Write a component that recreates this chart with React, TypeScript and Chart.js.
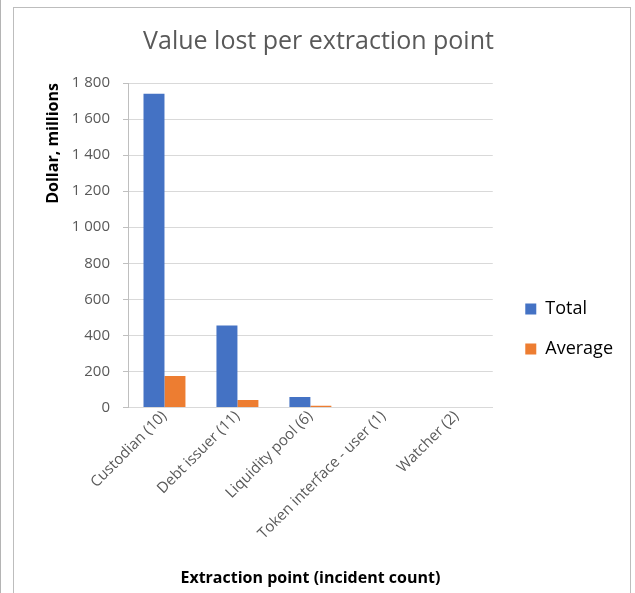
import React, { useEffect, useRef } from "react";
import Chart from "chart.js/auto";

const categories = [
  "Custodian (10)",
  "Debt issuer (11)",
  "Liquidity pool (6)",
  "Token interface - user (1)",
  "Watcher (2)",
];
const totalValues = [1740, 455, 58, 0, 0];
const averageValues = [174, 41, 9.7, 0, 0];
const yMin = 0;
const yMax = 1800;
const yStep = 200;

const chartTitle = "Value lost per extraction point";
const yTitle = "Dollar, millions";
const xTitle = "Extraction point (incident count)";
const seriesNames = ["Total", "Average"];

const FONT = "'Open Sans', 'DejaVu Sans', sans-serif";

function fmt(v: number): string {
  return String(v).replace(/\B(?=(\d{3})+(?!\d))/g, " ");
}

export default function App() {
  const ref = useRef<HTMLCanvasElement | null>(null);
  useEffect(() => {
    let chart: Chart | null = null;
    let cancelled = false;
    const make = () => {
      if (cancelled || !ref.current) return;
      chart = new Chart(ref.current, {
        type: "bar",
        data: {
          labels: categories,
          datasets: [
            {
              label: seriesNames[0],
              data: totalValues,
              backgroundColor: "#4472C4",
              borderWidth: 0,
              categoryPercentage: 0.575,
              barPercentage: 1,
            },
            {
              label: seriesNames[1],
              data: averageValues,
              backgroundColor: "#ED7D31",
              borderWidth: 0,
              categoryPercentage: 0.575,
              barPercentage: 1,
            },
          ],
        },
        options: {
          responsive: false,
          animation: false,
          devicePixelRatio: 1,
          layout: { padding: { left: 0, right: 7, top: 0, bottom: 0 } },
          plugins: {
            tooltip: { enabled: false },
            title: {
              display: true,
              text: chartTitle,
              color: "#595959",
              font: { family: FONT, size: 25, weight: "normal" },
              padding: { top: 19, bottom: 26 },
            },
            legend: {
              position: "right",
              align: "center",
              maxWidth: 220,
              labels: {
                boxWidth: 11,
                boxHeight: 11,
                padding: 22,
                color: "#000000",
                font: { family: FONT, size: 18 },
              },
            },
          },
          scales: {
            x: {
              grid: { display: false, drawTicks: false },
              border: { display: true, color: "#d9d9d9" },
              ticks: {
                minRotation: 45,
                maxRotation: 45,
                padding: 0,
                color: "#595959",
                font: { family: FONT, size: 15 },
              },
              title: {
                display: true,
                text: xTitle,
                color: "#000000",
                font: { family: FONT, size: 16, weight: "bold" },
                padding: { top: 26, bottom: 62 },
              },
            },
            y: {
              min: yMin,
              max: yMax,
              grid: { color: "#d9d9d9", tickColor: "#bfbfbf", tickLength: 5 },
              border: { display: true, color: "#bfbfbf" },
              ticks: {
                stepSize: yStep,
                padding: 13,
                color: "#595959",
                font: { family: FONT, size: 15 },
                callback: (v: any) => fmt(Number(v)),
              },
              title: {
                display: true,
                text: yTitle,
                align: "end",
                color: "#000000",
                font: { family: FONT, size: 16, weight: "bold" },
                padding: { top: 29.4, bottom: 8 },
              },
              afterFit: (s: any) => {
                s.width = 114;
              },
            },
            gap: {
              type: "linear",
              position: "right",
              display: true,
              grid: { display: false, drawTicks: false },
              border: { display: false },
              ticks: { display: false },
              afterFit: (s: any) => {
                s.width = 10.5;
              },
            },
          },
        } as any,
      });
    };
    const fonts: any = (document as any).fonts;
    if (fonts && fonts.load) {
      Promise.all([
        fonts.load("15px 'Open Sans'"),
        fonts.load("25px 'Open Sans'"),
        fonts.load("bold 16px 'Open Sans'"),
      ])
        .catch(() => null)
        .then(() => make());
    } else {
      make();
    }
    return () => {
      cancelled = true;
      if (chart) chart.destroy();
    };
  }, []);

  return (
    <>
      <div
        style={{
          position: "fixed",
          left: 0,
          top: 0,
          width: 1,
          height: "100%",
          background: "#b4b4b4",
        }}
      />
      <div
        style={{
          position: "fixed",
          left: 13,
          top: 7,
          width: 618,
          height: 700,
          boxSizing: "border-box",
          border: "1px solid #bdbdbd",
          background: "#ffffff",
          overflow: "hidden",
        }}
      >
        <canvas ref={ref} width={616} height={642} style={{ display: "block" }} />
      </div>
    </>
  );
}
